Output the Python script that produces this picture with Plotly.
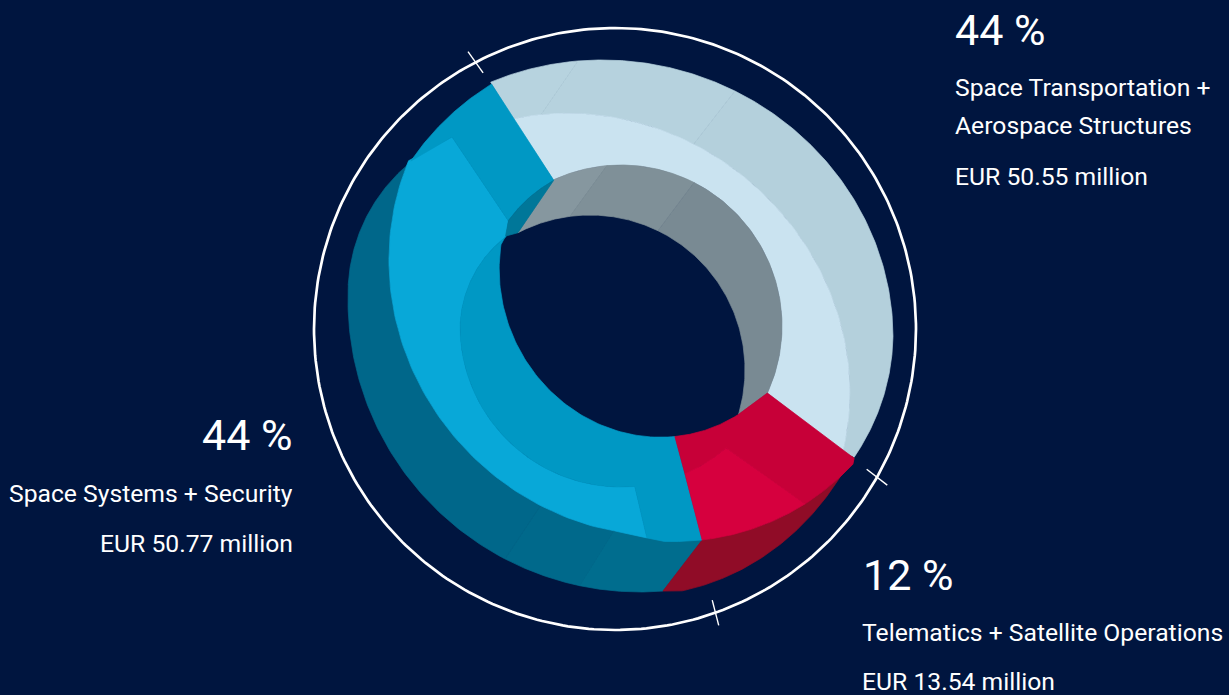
import numpy as np
import plotly.graph_objects as go

# ---- chart content -------------------------------------------------------
segments = [["Space Transportation +", "Aerospace Structures"],
            ["Telematics + Satellite Operations"],
            ["Space Systems + Security"]]
shares = [44, 12, 44]
amounts = [50.55, 13.54, 50.77]
tick_angles = [242.4, 29.5, 70.5]      # segment borders on the white ring
tick_dirs = [54.5, 37.7, 75.5]

BG = "#00153f"

# rims: centre x, centre y, semi-axis a, semi-axis b, tilt
O = (610, 330, 284, 269, 15)     # outer rim, light segment
O2 = (636, 333, 257, 235, 0)     # outer rim, light segment, lower right
L = (585, 375, 272, 254, 40)     # middle rim, light segment
G = (621, 326, 161, 161, 0)      # inner rim, grey wall
V = (578, 330, 118, 118, 0)      # inner rim, blue shoulder
H1 = (590, 370, 155, 155, 0)     # hole, upper side
H2 = (653, 277, 162, 152, 65)    # hole, lower side
B = (655, 270, 278, 258, 55)     # red rim
B2 = (653, 272, 270, 258, 45)    # bright blue rim
T = (640, 300, 292, 292, 0)      # back rim, teal
S = (518, 294, 170, 170, 0)      # back rim, teal shoulder
C = (630, 310, 286, 255, 85)     # back rim, crimson
U = (630, 310, 265, 265, 0)      # upper blue rim
W = (621, 302, 139, 139, 0)      # small wall wedge
RING = (615, 329, 301, 301, 0)


def arc(e, a0, a1, n=90):
    cx, cy, a, b, tilt = e
    th = np.radians(np.linspace(a0, a1, n))
    t = np.radians(tilt)
    d = th - t
    r = 1 / np.sqrt((np.cos(d) / a) ** 2 + (np.sin(d) / b) ** 2)
    return cx + r * np.cos(th), cy + r * np.sin(th)


def at(e, ang):
    return arc(e, ang, ang, 1)


def polar(e, ang, r):
    return arc((e[0], e[1], r, r, 0), ang, ang, 1)


def poly(fig, parts, color):
    xs = np.concatenate([p[0] for p in parts] + [parts[0][0][:1]])
    ys = np.concatenate([p[1] for p in parts] + [parts[0][1][:1]])
    fig.add_trace(go.Scatter(x=xs, y=ys, mode="lines", fill="toself", fillcolor=color,
                             line=dict(width=0.7, color=color), hoverinfo="skip", showlegend=False))


fig = go.Figure()

# --- light segment, back band ---
poly(fig, [arc(O, 244.3, 263.2), arc(L, 260.4, 254.3)], "#b7d3df")
poly(fig, [arc(O, 263.2, 297.6), arc(L, 295.2, 260.4)], "#b6d2de")
poly(fig, [arc(O, 297.6, 360.6), arc(O2, 0, 29.7), arc(L, 376.4, 295.2)], "#b4d0dc")
poly(fig, [arc(L, 254.3, 376.4), arc(G, 384.6, 245.2)], "#cae3f0")

# --- grey wall ---
g_cuts = [245.2, 265, 297, 384.6]
h_cuts = [242.3, 262.6, 296, 376.6]
for i, c in enumerate(["#86979f", "#7f9098", "#798a93"]):
    poly(fig, [arc(G, g_cuts[i], g_cuts[i + 1]), arc(H1, h_cuts[i + 1], h_cuts[i])], c)

# --- teal back band ---
poly(fig, [arc(S, 231, 183), arc(T, 183, 117.5), arc(B2, 115.7, 204.5)], "#00678a")
poly(fig, [arc(T, 117.5, 101.9), arc(B2, 98.6, 115.7)], "#00698b")
poly(fig, [arc(T, 101.9, 85.5), at(B, 80.1), arc(B2, 85, 98.6)], "#006d8e")

# --- crimson back band ---
tip = polar(B, 43.4, 274)
poly(fig, [at(T, 85.5), arc(C, 80, 33.4), tip, arc(B, 44.5, 80.1)], "#900c27")

# --- bright blue ---
corner = polar(G, 228.2, 253.5)
notch = at(W, 215.8)
hole_corner = polar(H2, 195.5, 153)
low_corner = polar(B2, 91.3, 266)
poly(fig, [low_corner, arc(B2, 97, 204.5), corner, notch, hole_corner,
           arc(V, 232.3, 182), arc(G, 180, 85.1)], "#08a8d8")

# --- mid blue ---
poly(fig, [hole_corner, arc(H2, 192, 82.2), arc(B, 80.1, 88), low_corner,
           arc(G, 85.1, 180), arc(V, 182, 232.3)], "#0098c4")
poly(fig, [arc(U, 214.2, 238.5), at(G, 245.2), arc(W, 241, 215.8), corner], "#0098c4")
poly(fig, [arc(W, 241, 216), hole_corner, at(H1, 242.3)], "#007799")

# --- red ---
poly(fig, [arc(H2, 82.2, 58.2), at(G, 24.6), tip, arc(B, 44.5, 57.3), arc(G, 49.2, 66.6)], "#c70038")
poly(fig, [arc(G, 66.6, 49.2), arc(B, 57.3, 80.1)], "#d6003e")

# --- white ring and border ticks ---
x, y = arc(RING, 0, 360, 361)
fig.add_trace(go.Scatter(x=x, y=y, mode="lines", line=dict(color="white", width=2.7),
                         hoverinfo="skip", showlegend=False))
for ang, d in zip(tick_angles, tick_dirs):
    px, py = at(RING, ang)
    dx, dy = 13 * np.cos(np.radians(d)), 13 * np.sin(np.radians(d))
    fig.add_trace(go.Scatter(x=[px[0] - dx, px[0] + dx], y=[py[0] - dy, py[0] + dy], mode="lines",
                             line=dict(color="white", width=1.4), hoverinfo="skip", showlegend=False))

FONT = "Roboto"
WHITE = "#ffffff"
BIG = 43
SMALL = 24.7


def label(x, y, text, size, anchor):
    fig.add_annotation(x=x, y=y, text=text, showarrow=False, xanchor=anchor, yanchor="middle",
                       height=size + 2, font=dict(family=FONT, size=size, color=WHITE))


label(953, 29, f"{shares[0]} %", BIG, "left")
label(953, 87, segments[0][0], SMALL, "left")
label(953, 125, segments[0][1], SMALL, "left")
label(953, 176, f"EUR {amounts[0]:.2f} million", SMALL, "left")

label(295, 434, f"{shares[2]} %", BIG, "right")
label(295, 493, segments[2][0], SMALL, "right")
label(295, 543, f"EUR {amounts[2]:.2f} million", SMALL, "right")

label(861, 574, f"{shares[1]} %", BIG, "left")
label(860, 632, segments[1][0], SMALL, "left")
label(860, 681.5, f"EUR {amounts[1]:.2f} million", SMALL, "left")

fig.update_layout(width=1229, height=695, margin=dict(l=0, r=0, t=0, b=0),
                  paper_bgcolor=BG, plot_bgcolor=BG, showlegend=False,
                  xaxis=dict(range=[0, 1229], visible=False, fixedrange=True),
                  yaxis=dict(range=[695, 0], visible=False, fixedrange=True))

fig.write_html("out.html", config={"displayModeBar": False},
               post_script=f"document.body.style.margin='0';document.body.style.background='{BG}';")
